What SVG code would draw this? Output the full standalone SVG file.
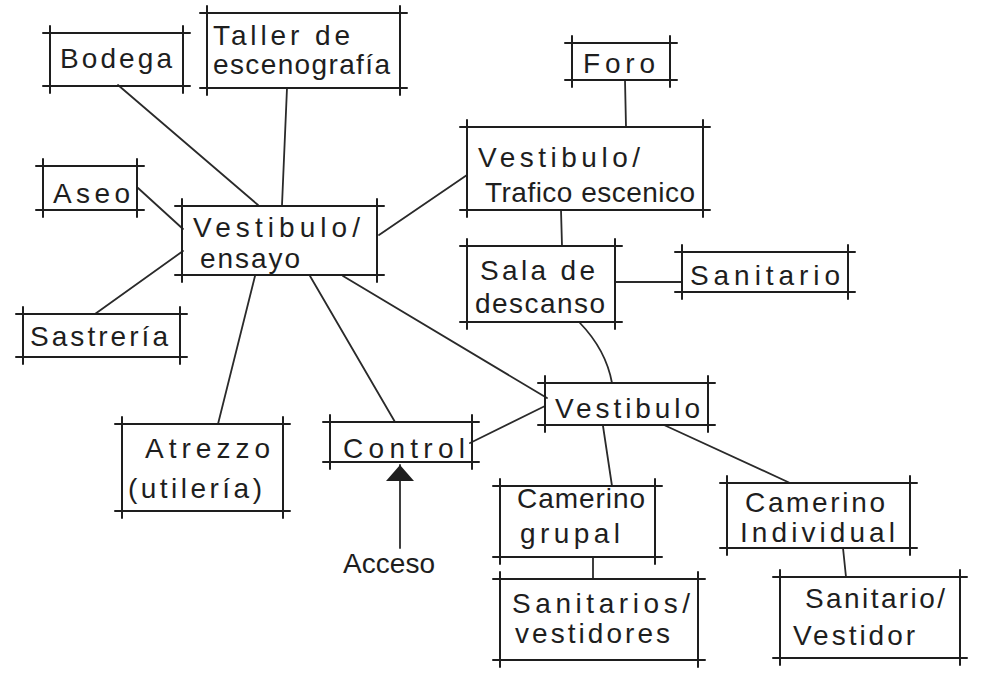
<svg xmlns="http://www.w3.org/2000/svg" width="993" height="678" viewBox="0 0 993 678">
<style>
.b{fill:none;stroke:#1e1e1e;stroke-width:2;stroke-linecap:round}
.c{fill:none;stroke:#2a2a2a;stroke-width:1.8;stroke-linecap:round}
text{font-family:"Liberation Sans","DejaVu Sans",sans-serif;fill:#1e1e1e;font-size:28px}
</style>
<defs>
<marker id="tri" viewBox="0 0 16 28" refX="16" refY="14" markerWidth="16" markerHeight="28" markerUnits="userSpaceOnUse" orient="auto">
<path d="M0 0 L16 14 L0 28 Z" fill="#1e1e1e"/>
</marker>
</defs>
<rect width="993" height="678" fill="#ffffff"/>
<g id="connectors">
<path class="c" d="M118 85 L258 205"/>
<path class="c" d="M287 88 L282 205"/>
<path class="c" d="M138 188 L183 229"/>
<path class="c" d="M95 314 L183 251"/>
<path class="c" d="M379 235 L467 175"/>
<path class="c" d="M255 276 L218 424"/>
<path class="c" d="M310 276 L395 422"/>
<path class="c" d="M343 276 L547 398"/>
<path class="c" d="M470 443 L545 406"/>
<path class="c" d="M625 80 L626 127"/>
<path class="c" d="M561 210 L562 246"/>
<path class="c" d="M616 282 L682 282"/>
<path class="c" d="M580 323 Q606 350 612 383"/>
<path class="c" d="M603 426 L612 486"/>
<path class="c" d="M664 425 L790 483"/>
<path class="c" d="M593 557 L593 579"/>
<path class="c" d="M843 548 L846 577"/>
<path class="c" d="M400 548 L400 465" marker-end="url(#tri)"/>
</g>
<g id="bodega"><path class="b" d="M43 33H190M43 86H190M50 26V93M183 26V93"/><text x="60" y="68" textLength="112" lengthAdjust="spacing" font-size="30">Bodega</text></g>
<g id="taller"><path class="b" d="M200 13H407M200 88H407M207 6V95M400 6V95"/><text x="213" y="45" textLength="137" lengthAdjust="spacing" font-size="26">Taller de</text><text x="213" y="74" textLength="177" lengthAdjust="spacing" font-size="26">escenografía</text></g>
<g id="aseo"><path class="b" d="M36 166H144M36 210H144M43 159V217M137 159V217"/><text x="53" y="203" textLength="77" lengthAdjust="spacing" font-size="31">Aseo</text></g>
<g id="ensayo"><path class="b" d="M175 206H384M175 275H384M182 199V282M377 199V282"/><text x="193" y="237" textLength="167" lengthAdjust="spacing" font-size="24">Vestibulo/</text><text x="200" y="268" textLength="100" lengthAdjust="spacing" font-size="22">ensayo</text></g>
<g id="sastreria"><path class="b" d="M16 314H187M16 357H187M23 307V364M180 307V364"/><text x="30" y="346" textLength="138" lengthAdjust="spacing" font-size="27">Sastrería</text></g>
<g id="atrezzo"><path class="b" d="M115 424H290M115 511H290M122 417V518M283 417V518"/><text x="145" y="458" textLength="125" lengthAdjust="spacing" font-size="32">Atrezzo</text><text x="128" y="498" textLength="134" lengthAdjust="spacing" font-size="30">(utilería)</text></g>
<g id="control"><path class="b" d="M323 422H479M323 462H479M330 415V469M472 415V469"/><text x="343" y="458" textLength="122" lengthAdjust="spacing" font-size="32">Control</text></g>
<g id="acceso"><text x="343" y="573" textLength="92" lengthAdjust="spacing" font-size="27">Acceso</text></g>
<g id="foro"><path class="b" d="M565 43H677M565 80H677M572 36V87M670 36V87"/><text x="583" y="73" textLength="72" lengthAdjust="spacing" font-size="30">Foro</text></g>
<g id="trafico"><path class="b" d="M460 127H710M460 210H710M467 120V217M703 120V217"/><text x="478" y="167" textLength="162" lengthAdjust="spacing" font-size="28">Vestibulo/</text><text x="485" y="202" textLength="210" lengthAdjust="spacing" font-size="27">Trafico escenico</text></g>
<g id="sala"><path class="b" d="M460 246H622M460 322H622M467 239V329M615 239V329"/><text x="480" y="280" textLength="115" lengthAdjust="spacing" font-size="28">Sala de</text><text x="475" y="313" textLength="130" lengthAdjust="spacing" font-size="27">descanso</text></g>
<g id="sanitario"><path class="b" d="M675 252H855M675 292H855M682 245V299M848 245V299"/><text x="690" y="285" textLength="150" lengthAdjust="spacing" font-size="27">Sanitario</text></g>
<g id="vestibulo"><path class="b" d="M538 383H715M538 425H715M545 376V432M708 376V432"/><text x="555" y="418" textLength="145" lengthAdjust="spacing" font-size="30">Vestibulo</text></g>
<g id="camerino-grupal"><path class="b" d="M493 486H662M493 557H662M500 479V564M655 479V564"/><text x="517" y="508" textLength="128" lengthAdjust="spacing" font-size="24">Camerino</text><text x="520" y="543" textLength="100" lengthAdjust="spacing" font-size="27">grupal</text></g>
<g id="camerino-individual"><path class="b" d="M720 483H917M720 548H917M727 476V555M910 476V555"/><text x="745" y="512" textLength="140" lengthAdjust="spacing" font-size="26">Camerino</text><text x="740" y="542" textLength="155" lengthAdjust="spacing" font-size="27">Individual</text></g>
<g id="sanitarios-vestidores"><path class="b" d="M493 579H705M493 660H705M500 572V667M698 572V667"/><text x="512" y="613" textLength="178" lengthAdjust="spacing" font-size="28">Sanitarios/</text><text x="515" y="643" textLength="155" lengthAdjust="spacing" font-size="27">vestidores</text></g>
<g id="sanitario-vestidor"><path class="b" d="M773 577H967M773 658H967M780 570V665M960 570V665"/><text x="805" y="608" textLength="140" lengthAdjust="spacing" font-size="27">Sanitario/</text><text x="793" y="645" textLength="122" lengthAdjust="spacing" font-size="29">Vestidor</text></g>
</svg>
